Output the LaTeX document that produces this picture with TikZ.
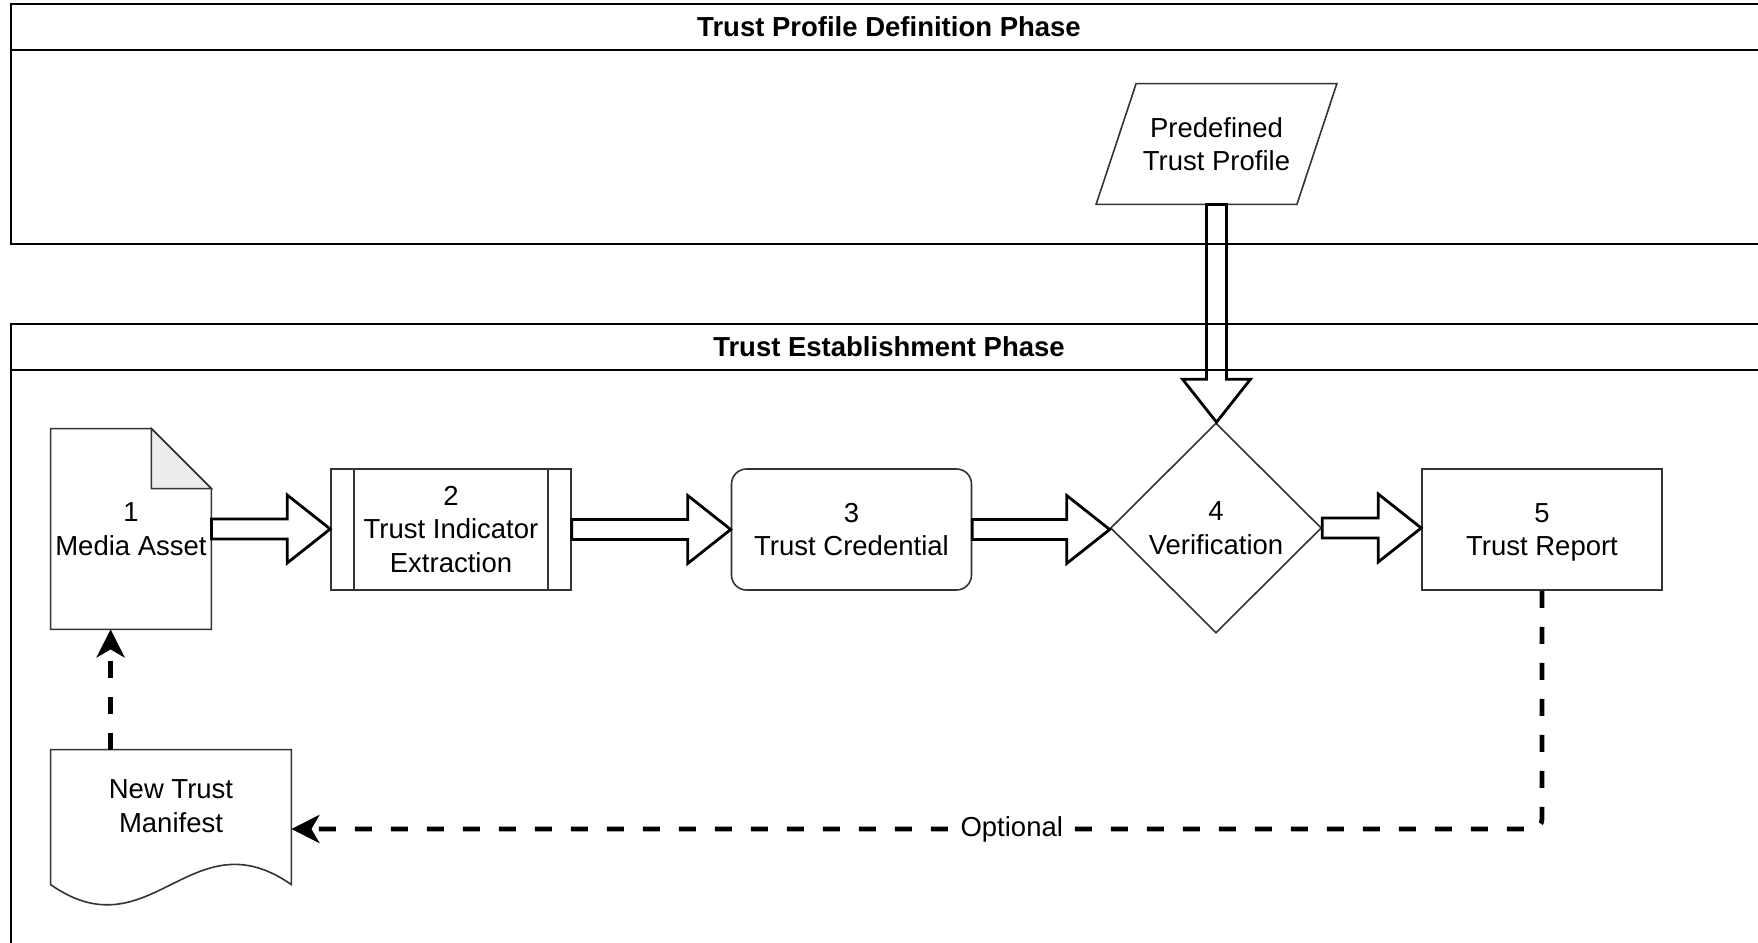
\documentclass[tikz,border=0pt]{standalone}
\usepackage{fontspec}
\setmainfont{Liberation Sans}
\usetikzlibrary{calc,shapes.geometric,arrows.meta}

% hollow block arrow, left to right
\newcommand{\flexh}[2]{%
  \draw[blockarrow] let \p1=(#1.east), \p2=(#2.west) in
    (\x1,\y1+5pt) -- (\x2-21.5pt,\y1+5pt) -- (\x2-21.5pt,\y1+17pt) -- (\x2,\y1)
    -- (\x2-21.5pt,\y1-17pt) -- (\x2-21.5pt,\y1-5pt) -- (\x1,\y1-5pt) -- cycle;}
% hollow block arrow, top to bottom
\newcommand{\flexv}[2]{%
  \draw[blockarrow] let \p1=(#1.south), \p2=(#2.north) in
    (\x1-5pt,\y1) -- (\x1-5pt,\y2+21.5pt) -- (\x1-17pt,\y2+21.5pt) -- (\x1,\y2)
    -- (\x1+17pt,\y2+21.5pt) -- (\x1+5pt,\y2+21.5pt) -- (\x1+5pt,\y1) -- cycle;}

\begin{document}
\begin{tikzpicture}[x=0.5pt,y=-0.5pt,
  font=\fontsize{13.75pt}{16.8pt}\selectfont,
  pool/.style={draw=black,line width=1pt},
  pooltitle/.style={font=\fontsize{13.75pt}{16.8pt}\selectfont\bfseries},
  outline/.style={draw=black!80,line width=0.8pt},
  shapebox/.style={outline,align=center,inner sep=0pt},
  ghost/.style={inner sep=0pt,align=center},
  blockarrow/.style={draw=black,line width=1.4pt,line join=miter},
  optflow/.style={draw=black,line width=2.4pt,dash pattern=on 8.5pt off 9.5pt,
    -{Stealth[length=14pt,width=14pt,inset=4pt]}},
]
\path[use as bounding box,clip] (0,0) rectangle (1758,943);

% swimlane pools
\draw[pool] (11,4) rectangle (1767,244);
\draw[pool] (11,50) -- (1767,50);
\node[pooltitle] (tpd) at (889,27) {Trust Profile Definition Phase};
\draw[pool] (11,324) rectangle (1767,990);
\draw[pool] (11,370) -- (1767,370);
\node[pooltitle] (tep) at (889,347) {Trust Establishment Phase};

% 1 Media Asset (page with folded corner)
\node[ghost,minimum width=80pt,minimum height=100pt] (m1) at (131,529) {1\\Media Asset};
\draw[outline] (m1.north west) -- ($(m1.north east)+(-30pt,0)$) -- ($(m1.north east)+(0,-30pt)$)
  -- (m1.south east) -- (m1.south west) -- cycle;
\filldraw[outline,fill=black!7] ($(m1.north east)+(-30pt,0)$) -- ($(m1.north east)+(-30pt,-30pt)$)
  -- ($(m1.north east)+(0,-30pt)$) -- cycle;

% 2 predefined process
\node[shapebox,minimum width=120pt,minimum height=60.5pt] (p2) at (451,529.5)
  {2\\Trust Indicator\\Extraction};
\draw[outline] ($(p2.north west)+(12pt,0)$) -- ($(p2.south west)+(12pt,0)$);
\draw[outline] ($(p2.north east)+(-12pt,0)$) -- ($(p2.south east)+(-12pt,0)$);

% 3 rounded step
\node[shapebox,rounded corners=7.5pt,minimum width=120pt,minimum height=60.5pt] (c3)
  at (851.5,529.5) {3\\Trust Credential};

% 4 decision
\node[shapebox,diamond,aspect=1,minimum width=105.5pt,minimum height=105pt] (v4)
  at (1216,528) {4\\Verification};

% 5 report
\node[shapebox,minimum width=120pt,minimum height=60.5pt] (r5) at (1542,529.5)
  {5\\Trust Re\smash{p}ort};

% input parallelogram
\node[ghost,minimum width=100pt,minimum height=60pt] (ptp) at (1216.5,144)
  {Predefined\\Trust Profile};
\draw[outline] ($(ptp.north west)+(10pt,0)$) -- ($(ptp.north east)+(10pt,0)$)
  -- ($(ptp.south east)+(-10pt,0)$) -- ($(ptp.south west)+(-10pt,0)$) -- cycle;

% document with wavy bottom
\node[ghost,minimum width=120pt,minimum height=79pt] (nm) at (171,829) {};
\draw[outline] (nm.north west) -- (nm.north east) -- ($(nm.north east)+(0,-67.5pt)$)
  .. controls ($(nm.north east)+(-50pt,-32.5pt)$) and ($(nm.north west)+(50pt,-102.5pt)$)
  .. ($(nm.north west)+(0,-67.5pt)$) -- cycle;
\node[ghost] (nmt) at ($(nm.center)+(0,11.5pt)$) {New Trust\\Manifest};

% main flow
\flexh{m1}{p2}
\flexh{p2}{c3}
\flexh{c3}{v4}
\flexh{v4}{r5}
\flexv{ptp}{v4}

% optional feedback
\coordinate (nmtop) at ($(nm.north west)+(30pt,0)$);
\draw[optflow] (nmtop) -- (nmtop |- m1.south);
\draw[optflow,rounded corners=5pt] (r5.south) |-
  node[pos=0.712,fill=white,inner sep=0.3pt] (opt) {Optional} (nm.east);
\end{tikzpicture}
\end{document}
